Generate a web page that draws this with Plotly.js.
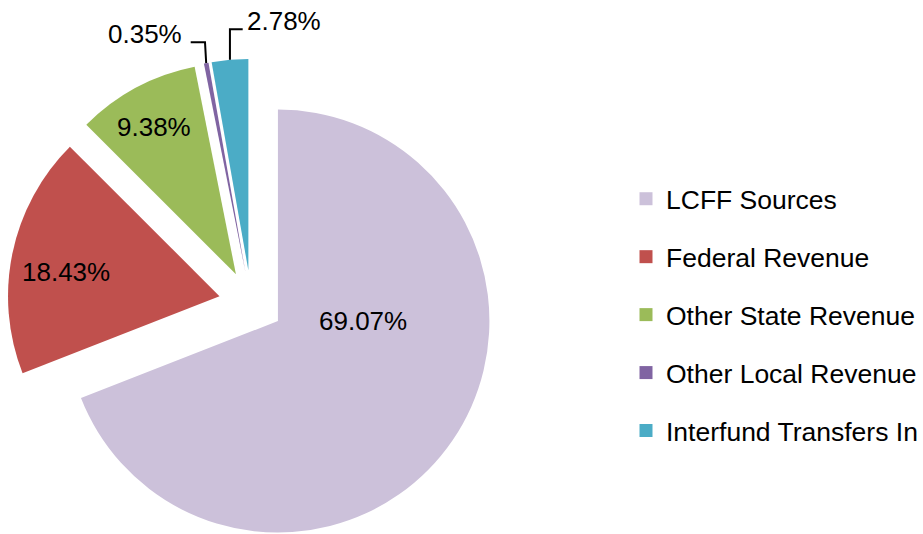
<!DOCTYPE html>
<html>
<head>
<meta charset="utf-8">
<script src="https://cdn.plot.ly/plotly-3.0.1.min.js"></script>
<style>
  html, body { margin: 0; padding: 0; background: #fff; }
  #wrap { width: 923px; height: 534px; overflow: hidden; position: relative; }
  #chart { width: 923px; height: 560px; }
</style>
</head>
<body>
<div id="wrap"><div id="chart"></div></div>
<script>
// Data
const categories = ["LCFF Sources", "Federal Revenue", "Other State Revenue", "Other Local Revenue", "Interfund Transfers In"];
const shares = [69.07, 18.43, 9.38, 0.35, 2.78];
const colors = ["#CCC1DA", "#C0504D", "#9BBB59", "#8064A2", "#4BACC6"];

const FONT = "Liberation Sans, Arial, Helvetica, sans-serif";
const W = 923, H = 560;
const px = x => x / W;
const py = y => (H - y) / H;

// pie geometry (pixels)
const cx = 251.2, cy = 302.8, pull = 0.153, r = 211.5;
const half = r * (1 + pull);

const labelText = shares.map(v => v.toFixed(2) + "%");

const pie = {
  type: "pie",
  labels: categories,
  values: shares,
  textinfo: "none",
  sort: false,
  direction: "clockwise",
  rotation: 0,
  pull: shares.map(() => pull),
  marker: {colors: colors, line: {width: 0}},
  showlegend: false,
  hoverinfo: "label+percent",
  domain: {
    x: [px(cx - half), px(cx + half)],
    y: [py(cy + half), py(cy - half)]
  }
};

const legendTraces = categories.map((c, i) => ({
  type: "scatter",
  mode: "markers",
  x: [null], y: [null],
  name: c,
  legendgroup: "g" + i,
  marker: {symbol: "square", size: 13, color: colors[i]},
  hoverinfo: "skip"
}));

// outer-arc midpoint of each (pulled) slice, from the pie geometry
const total = shares.reduce((a, b) => a + b, 0);
let cum = 0;
const outerPts = shares.map(v => {
  const mid = (cum + v / 2) / total * 2 * Math.PI;
  cum += v;
  const d = r * (1 + pull);
  return [cx + d * Math.sin(mid), cy - d * Math.cos(mid)];
});

// label placement (pixels): [x, y, anchor]
const labelPos = [
  [362.8, 321.3, "center"],
  [66, 272, "center"],
  [153.7, 127.5, "center"],
  [184, 34.2, "right"],
  [244.5, 20.8, "left"]
];

const annotations = labelText.map((t, i) => ({
  text: t,
  xref: "paper", yref: "paper",
  x: px(labelPos[i][0]), y: py(labelPos[i][1]),
  xanchor: labelPos[i][2], yanchor: "middle",
  showarrow: false,
  font: {family: FONT, size: 26, color: "#000"}
}));

function pathOf(pts) {
  return pts.map((p, k) => (k ? "L" : "M") + px(p[0]) + "," + py(p[1])).join(" ");
}
const pP = outerPts[3], pB = outerPts[4];
const shapes = [
  {type: "path", xref: "paper", yref: "paper",
   path: pathOf([pP, [205, 42.3], [190.7, 42.3]]),
   line: {color: "#000", width: 2}},
  {type: "path", xref: "paper", yref: "paper",
   path: pathOf([pB, [pB[0], 29.3], [242.7, 29.3]]),
   line: {color: "#000", width: 2}}
];

const layout = {
  width: W, height: H,
  margin: {l: 0, r: 0, t: 0, b: 0},
  paper_bgcolor: "#fff",
  plot_bgcolor: "#fff",
  font: {family: FONT, color: "#000"},
  xaxis: {visible: false},
  yaxis: {visible: false},
  showlegend: true,
  annotations: annotations,
  shapes: shapes,
  legend: {
    x: px(626), y: py(175),
    xanchor: "left", yanchor: "top",
    font: {family: FONT, size: 26.5, color: "#000"},
    tracegroupgap: 20.5,
    itemsizing: "trace",
    bgcolor: "rgba(0,0,0,0)"
  }
};

Plotly.newPlot("chart", [pie].concat(legendTraces), layout, {displayModeBar: false, staticPlot: true});
</script>
</body>
</html>
